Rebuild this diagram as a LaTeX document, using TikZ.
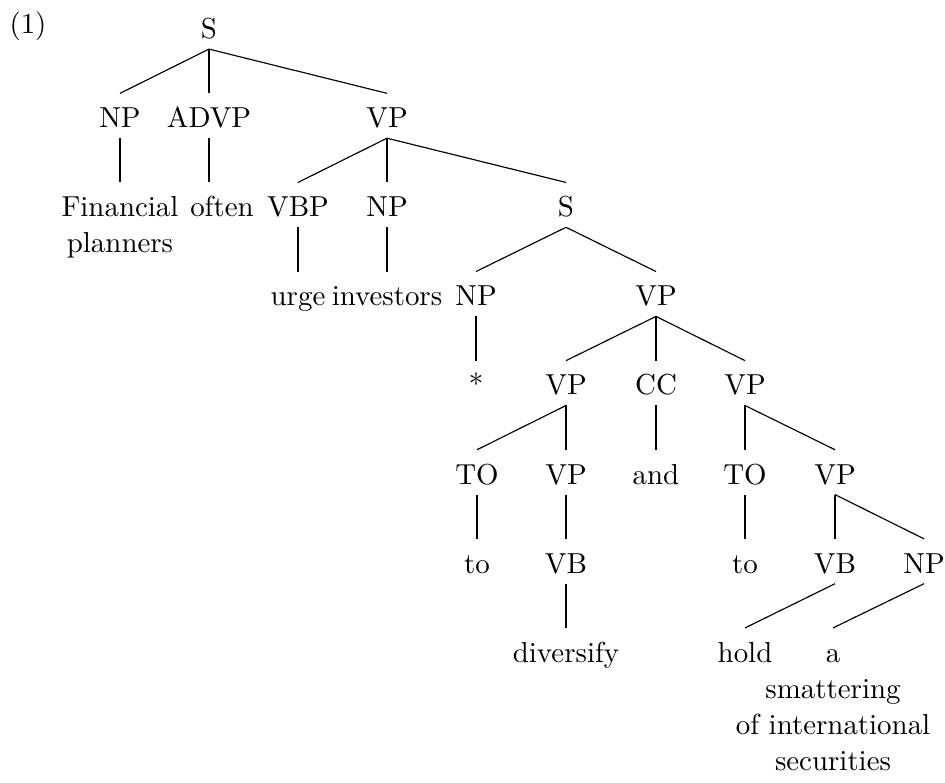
\documentclass[tikz,border=0pt]{standalone}
\usepackage{amsmath}
\usetikzlibrary{calc}

\renewcommand{\arraystretch}{1.04}
\newcommand{\stack}[1]{\begin{tabular}[t]{@{}c@{}}#1\end{tabular}}

\tikzset{
    cat/.style={inner sep=0pt, anchor=base, text height=11.66pt, text depth=3.46pt},
}

\begin{document}
\begin{tikzpicture}[x=0.346pt, y=-0.346pt]
    \useasboundingbox (0,0) rectangle (945,782);

    % example number
    \node[anchor=base] (ex_num) at (28,33.5) {(1)};

    % top clause
    \node[cat] (s_0) at (209,38.5) {S};

    \node[cat] (np_1) at (120,127.6) {NP};
    \node[cat] (advp_1) at (209,127.6) {ADVP};
    \node[cat] (vp_1) at (387,127.6) {VP};

    \draw (s_0.south) -- (np_1.north);
    \draw (s_0.south) -- (advp_1.north);
    \draw (s_0.south) -- (vp_1.north);

    % subject, adverb, main verb phrase
    \node[cat] (w_fin) at (120,216.7) {\stack{Financial\\planners}};
    \node[cat] (w_often) at (222,216.7) {often};
    \node[cat] (vbp_2) at (298,216.7) {VBP};
    \node[cat] (np_2) at (387,216.7) {NP};
    \node[cat] (s_2) at (566,216.7) {S};

    \draw (np_1.south) -- (w_fin.north);
    \draw (advp_1.south) -- (advp_1.south |- w_often.north);
    \draw (vp_1.south) -- (vbp_2.north);
    \draw (vp_1.south) -- (np_2.north);
    \draw (vp_1.south) -- (s_2.north);

    % embedded clause
    \node[cat] (w_urge) at (298,305.8) {urge};
    \node[cat] (w_inv) at (387,305.8) {investors};
    \node[cat] (np_3) at (476,305.8) {NP};
    \node[cat] (vp_3) at (656,305.8) {VP};

    \draw (vbp_2.south) -- (w_urge.north);
    \draw (np_2.south) -- (w_inv.north);
    \draw (s_2.south) -- (np_3.north);
    \draw (s_2.south) -- (vp_3.north);

    % coordination
    \node[cat] (w_star) at (476,394.9) {*};
    \node[cat] (vp_4a) at (566,394.9) {VP};
    \node[cat] (cc_4) at (656,394.9) {CC};
    \node[cat] (vp_4b) at (745,394.9) {VP};

    \draw (np_3.south) -- (w_star.north);
    \draw (vp_3.south) -- (vp_4a.north);
    \draw (vp_3.south) -- (cc_4.north);
    \draw (vp_3.south) -- (vp_4b.north);

    \node[cat] (to_5a) at (477,484) {TO};
    \node[cat] (vp_5a) at (566,484) {VP};
    \node[cat] (w_and) at (656,484) {and};
    \node[cat] (to_5b) at (745,484) {TO};
    \node[cat] (vp_5b) at (835,484) {VP};

    \draw (vp_4a.south) -- (to_5a.north);
    \draw (vp_4a.south) -- (vp_5a.north);
    \draw (cc_4.south) -- (w_and.north);
    \draw (vp_4b.south) -- (to_5b.north);
    \draw (vp_4b.south) -- (vp_5b.north);

    \node[cat] (w_to_a) at (477,573.1) {to};
    \node[cat] (vb_6a) at (566,573.1) {VB};
    \node[cat] (w_to_b) at (745,573.1) {to};
    \node[cat] (vb_6b) at (835,573.1) {VB};
    \node[cat] (np_6) at (924,573.1) {NP};

    \draw (to_5a.south) -- (w_to_a.north);
    \draw (vp_5a.south) -- (vb_6a.north);
    \draw (to_5b.south) -- (w_to_b.north);
    \draw (vp_5b.south) -- (vb_6b.north);
    \draw (vp_5b.south) -- (np_6.north);

    % leaves
    \node[cat] (w_div) at (566,662.2) {diversify};
    \node[cat] (w_hold) at (745,662.2) {hold};
    \node[cat] (w_sec) at (833,662.2) {\stack{a\\smattering\\of international\\securities}};

    \draw (vb_6a.south) -- (w_div.north);
    \draw (vb_6b.south) -- (w_hold.north);
    \draw (np_6.south) -- (w_sec.north);

\end{tikzpicture}
\end{document}
